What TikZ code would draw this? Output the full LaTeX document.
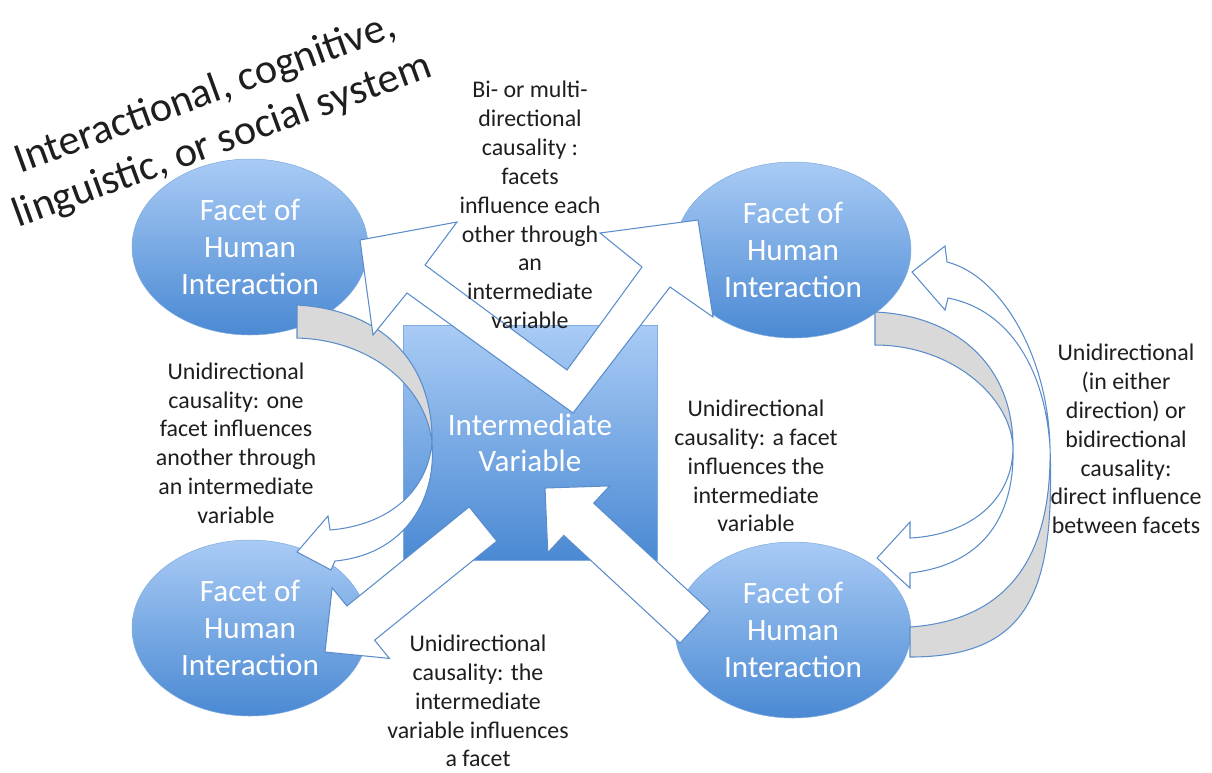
\documentclass[tikz,border=0pt]{standalone}
\usepackage{fontspec}
\setmainfont{Carlito}
\usetikzlibrary{shapes.geometric,calc}

\definecolor{facetTop}{HTML}{A9CBF5}
\definecolor{facetBot}{HTML}{4A89D3}
\definecolor{arrowEdge}{HTML}{5B8DCB}
\definecolor{backGray}{HTML}{D9D9D9}
\definecolor{labelInk}{HTML}{1E1E1E}

\tikzset{
    facet/.style={ellipse, minimum width=4.72cm, minimum height=3.52cm, inner sep=0pt,
        top color=facetTop, bottom color=facetBot, draw=facetBot!70, line width=0.3pt,
        text=white, align=center, font=\fontsize{17.7}{21.3}\selectfont},
    varbox/.style={rectangle, minimum width=5.08cm, minimum height=4.7cm, inner sep=0pt,
        top color=facetTop, bottom color=facetBot, draw=facetBot!70, line width=0.3pt,
        text=white, align=center, font=\fontsize{17.7}{20.5}\selectfont},
    caption/.style={text=labelInk, align=center, inner sep=0pt,
        font=\fontsize{13.6}{16.4}\selectfont},
    fatarrow/.style={fill=white, draw=arrowEdge, line width=0.6pt, line join=miter},
    backface/.style={fill=backGray, draw=arrowEdge, line width=0.6pt},
}

% straight block arrow from #1 (tail) to #2 (tip)
\newcommand{\blockarrow}[2]{%
    \coordinate (ba-h) at ($(#2)!0.92cm!(#1)$);
    \draw[fatarrow] ($(#1)!0.44cm!90:(#2)$) -- ($(ba-h)!0.44cm!90:(#2)$)
        -- ($(ba-h)!0.91cm!90:(#2)$) -- (#2) -- ($(ba-h)!0.91cm!-90:(#2)$)
        -- ($(ba-h)!0.44cm!-90:(#2)$) -- ($(#1)!0.44cm!-90:(#2)$) -- cycle;
}

\begin{document}
\begin{tikzpicture}[x=0.02cm, y=-0.02cm]
    \useasboundingbox (0,0) rectangle (1212,772);

    % Draw the four facets and the intermediate variable
    \node[facet] (facet-tl) at (250,247) {Facet of\\Human\\Interaction};
    \node[facet] (facet-tr) at (793,250) {Facet of\\Human\\Interaction};
    \node[facet] (facet-bl) at (250,628) {Facet of\\Human\\Interaction};
    \node[facet] (facet-br) at (793,630) {Facet of\\Human\\Interaction};
    \node[varbox] (inter) at (530,443) {Intermediate\\Variable};

    % Draw the curved arrow on the left (through the variable)
    \draw[backface] (297,305) .. controls (385,310) and (433,365) .. (432,442)
        .. controls (425,385) and (370,340) .. (297,338) -- cycle;
    \draw[fatarrow] (432,442) .. controls (428,490) and (390,525) .. (330,530)
        -- (328,516) -- (297,552) -- (331,570) -- (335,561)
        .. controls (400,555) and (437,505) .. (432,442) -- cycle;

    % Draw the two curved arrows on the right (direct influence)
    \draw[backface] (875,312) .. controls (950,315) and (1013,360) .. (1013,447)
        .. controls (1010,395) and (950,345) .. (875,345) -- cycle;
    \draw[fatarrow] (1013,447) .. controls (1013,500) and (970,535) .. (910,538)
        -- (910,522) -- (877,558) -- (910,588) -- (910,573)
        .. controls (980,565) and (1015,520) .. (1013,447) -- cycle;
    \draw[backface] (910,627) .. controls (1010,620) and (1052,555) .. (1050,447)
        .. controls (1055,590) and (1030,657) .. (910,657) -- cycle;
    \draw[fatarrow] (1050,447) .. controls (1048,355) and (1000,275) .. (947,262)
        -- (945,246) -- (912,272) -- (945,310) -- (948,298)
        .. controls (1010,310) and (1045,370) .. (1050,447) -- cycle;

    % Draw the bent two-headed arrow between the top facets
    \draw[fatarrow] (360,240) -- (457,222) -- (425,265) -- (567,370) -- (642,267)
        -- (600,233) -- (698,220) -- (713,317) -- (670,287) -- (573,413)
        -- (407,293) -- (373,335) -- cycle;

    % Draw the straight arrows to and from the variable
    \coordinate (inter-out) at (483,524);
    \coordinate (facet-bl-in) at (325,652);
    \coordinate (facet-br-out) at (695,627);
    \coordinate (inter-in) at (545,488);
    \blockarrow{inter-out}{facet-bl-in}
    \blockarrow{facet-br-out}{inter-in}

    % Draw the labels
    \node[rotate=20, text=labelInk, align=center, inner sep=0pt,
        font=\fontsize{24}{28.5}\selectfont] (system) at (214,118)
        {Interactional, cognitive,\\linguistic, or social system};
    \node[caption] (lab-multi) at (530,205)
        {Bi- or multi-\\directional\\causality :\\facets\\influence each\\other through\\an\\intermediate\\variable};
    \node[caption] (lab-through) at (236,443)
        {Unidirectional\\causality: one\\facet influences\\another through\\an intermediate\\variable};
    \node[caption] (lab-to) at (756,466)
        {Unidirectional\\causality: a facet\\influences the\\intermediate\\variable};
    \node[caption] (lab-direct) at (1126,439)
        {Unidirectional\\(in either\\direction) or\\bidirectional\\causality:\\direct influence\\between facets};
    \node[caption] (lab-from) at (478,701)
        {Unidirectional\\causality: the\\intermediate\\variable influences\\a facet};
\end{tikzpicture}
\end{document}
